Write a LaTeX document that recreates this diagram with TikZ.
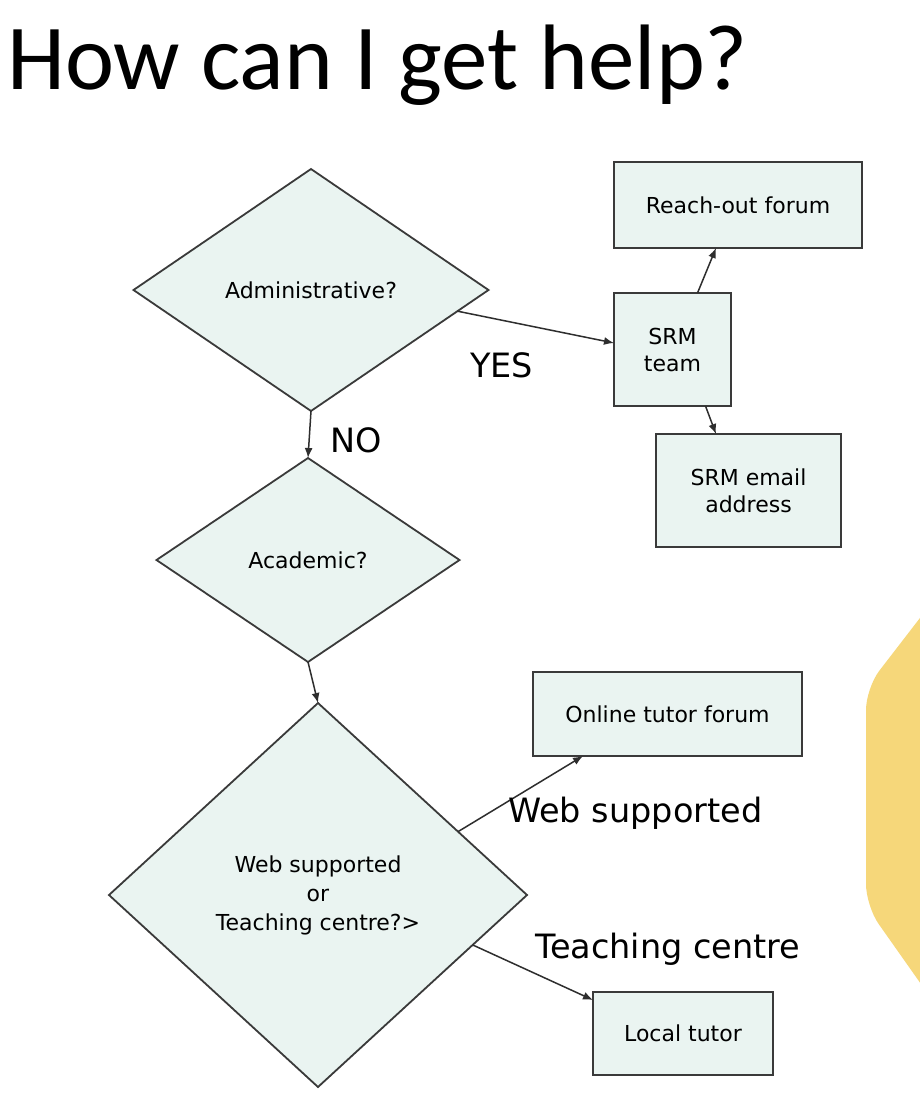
\documentclass[tikz,border=0pt]{standalone}
\usepackage{fontspec}
\setmainfont{DejaVu Sans}
\newfontfamily\titlefont{Carlito}
\usetikzlibrary{shapes.geometric,arrows.meta,calc}
\definecolor{nodefill}{HTML}{EAF4F1}
\definecolor{nodeline}{HTML}{3A3A3A}
\definecolor{linkcol}{HTML}{2E2E2E}
\definecolor{sidegold}{HTML}{F6D77A}
\begin{document}
\begin{tikzpicture}[x=1pt,y=-1pt,
  decision/.style={diamond,draw=nodeline,fill=nodefill,line width=1.8pt,
    inner sep=0pt,outer sep=0pt,align=center,font=\fontsize{22}{29}\selectfont},
  target/.style={rectangle,draw=nodeline,fill=nodefill,line width=1.8pt,
    inner sep=0pt,outer sep=0pt,align=center,font=\fontsize{22}{27}\selectfont},
  link/.style={draw=linkcol,line width=1.5pt,-{Latex[length=10pt,width=8pt]}},
  tag/.style={font=\fontsize{33.5}{40}\selectfont,inner sep=0pt,anchor=base west}]
\useasboundingbox (0,0) rectangle (920,1096);
\fill[white] (0,0) rectangle (920,1096);

% gold side panel, cut by the right edge
\begin{scope}
  \clip (0,0) rectangle (920,1096);
  \fill[sidegold,rounded corners=22pt]
    (940,592) -- (866,688) -- (866,906) -- (940,1011) -- cycle;
\end{scope}

% heading
\node[anchor=base west,inner sep=0pt,font=\titlefont\fontsize{93}{110}\selectfont]
  (title) at (7,89) {How can I get help?};

% decisions
\node[decision,minimum width=355pt,minimum height=242pt] (admin) at (311,290) {Administrative?};
\node[decision,minimum width=303pt,minimum height=204pt] (acad) at (308,560) {Academic?};
\node[decision,minimum width=418pt,minimum height=384pt] (web) at (318,895)
  {Web supported\\or\\Teaching centre?>};

% outcomes
\node[target,minimum width=248pt,minimum height=86pt] (reach) at (738,205) {Reach-out forum};
\node[target,minimum width=117pt,minimum height=113pt] (srm) at (672.5,349.5) {SRM\\team};
\node[target,minimum width=185pt,minimum height=113pt] (email) at (748.5,490.5) {SRM email\\address};
\node[target,minimum width=269pt,minimum height=84pt] (online) at (667.5,714) {Online tutor forum};
\node[target,minimum width=180pt,minimum height=83pt] (local) at (683,1033.5) {Local tutor};

% connectors
\draw[link] ($(admin.east)!0.175!(admin.south)$) -- ($(srm.west)+(0,-6.5)$);
\draw[link] ($(srm.north)+(25,0)$) -- ($(reach.south)+(-22,0)$);
\draw[link] ($(srm.south)+(33,0)$) -- ($(email.north)+(-32.5,0)$);
\draw[link] (admin.south) -- (acad.north);
\draw[link] (acad.south) -- (web.north);
\draw[link] ($(web.north)!0.67!(web.east)$) -- ($(online.south)+(-84.5,0)$);
\draw[link] ($(web.east)!0.26!(web.south)$) -- ($(local.north west)+(0,8)$);

% branch labels
\node[tag] (yes) at (470,377) {YES};
\node[tag] (no) at (330,452) {NO};
\node[tag] (webtag) at (508,822) {Web supported};
\node[tag] (teachtag) at (535,958) {Teaching centre};
\end{tikzpicture}
\end{document}
